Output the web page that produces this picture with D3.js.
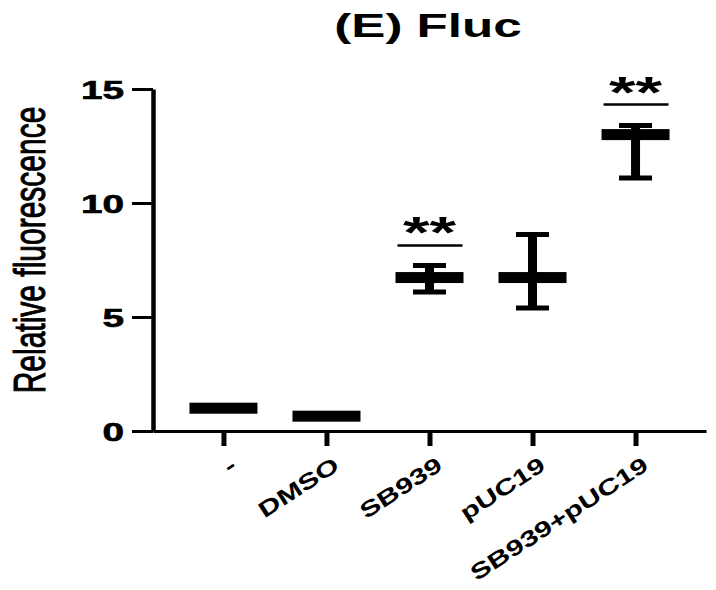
<!DOCTYPE html>
<html>
<head>
<meta charset="utf-8">
<script src="https://cdn.jsdelivr.net/npm/d3@7"></script>
<style>
  body { margin: 0; background: #fff; }
  text { font-family: "Liberation Sans", Arial, sans-serif; fill: #000; }
</style>
</head>
<body>
<svg id="chart" width="716" height="590"></svg>
<script>
// data
const categories = ["-", "DMSO", "SB939", "pUC19", "SB939+pUC19"];
const means = [1.0, 0.65, 6.73, 6.73, 13.0];
const upper = [1.0, 0.65, 7.26, 8.62, 13.4];
const lower = [1.0, 0.65, 6.1, 5.4, 11.1];
const yTicks = [0, 5, 10, 15];
const sigCategories = ["SB939", "SB939+pUC19"];
const sigLevels = [8.14, 14.32];
const sigLabels = ["**", "**"];

const SX = 1.55; // the figure is stretched sideways, text too

const svg = d3.select("#chart");

const x = d3.scalePoint()
  .domain(categories)
  .range([153, 706])
  .padding(0.684);

const y = d3.scaleLinear()
  .domain([0, 15])
  .range([431, 89]);

// title
svg.append("g")
    .attr("transform", `translate(428,37) scale(${SX},1)`)
  .append("text")
    .attr("text-anchor", "middle")
    .style("font-size", "33px")
    .style("font-weight", "bold")
    .text("(E) Fluc");

// y axis
const yAxis = svg.append("g")
    .attr("transform", "translate(153,0)")
    .call(d3.axisLeft(y).tickValues(yTicks).tickSize(21).tickSizeOuter(0));
yAxis.select(".domain").attr("stroke-width", 4.5);
yAxis.selectAll(".tick line").attr("stroke-width", 3);
yAxis.selectAll(".tick text")
    .attr("transform", `scale(${SX},1)`)
    .attr("x", -29 / SX)
    .attr("dy", "0.36em")
    .style("font-size", "25px")
    .style("font-weight", "bold")
    .attr("stroke", "#000")
    .attr("stroke-width", 0.6);

// x axis
const xAxis = svg.append("g")
    .attr("transform", "translate(0,431)")
    .call(d3.axisBottom(x).tickSize(15).tickSizeOuter(0));
xAxis.select(".domain").attr("stroke-width", 3);
xAxis.selectAll(".tick line").attr("stroke-width", 5);
xAxis.selectAll(".tick text").remove();

svg.selectAll(".xlab")
  .data(categories)
  .enter().append("g")
    .attr("class", "xlab")
    .attr("transform", d => `translate(${x(d) + 6},456) rotate(-33) scale(1.38,1)`)
  .append("text")
    .attr("text-anchor", "end")
    .attr("dy", "0.7em")
    .style("font-size", "22px")
    .style("font-weight", "bold")
    .text(d => d);

// y label
svg.append("g")
    .attr("transform", `translate(29,250) scale(1.46,1) rotate(-90)`)
  .append("text")
    .attr("text-anchor", "middle")
    .attr("dy", "0.36em")
    .style("font-size", "30px")
    .attr("stroke", "#000")
    .attr("stroke-width", 0.7)
    .text("Relative fluorescence");

// error bars + mean lines
const groups = svg.selectAll(".grp")
  .data(categories)
  .enter().append("g")
    .attr("class", "grp");

groups.append("line")
    .attr("x1", d => x(d)).attr("x2", d => x(d))
    .attr("y1", (d, i) => y(lower[i]))
    .attr("y2", (d, i) => y(upper[i]))
    .attr("stroke", "#000")
    .attr("stroke-width", 9);

groups.selectAll(".cap")
  .data((d, i) => [upper[i], lower[i]].map(v => ({ c: d, v })))
  .enter().append("line")
    .attr("class", "cap")
    .attr("x1", d => x(d.c) - 16.5).attr("x2", d => x(d.c) + 16.5)
    .attr("y1", d => y(d.v)).attr("y2", d => y(d.v))
    .attr("stroke", "#000")
    .attr("stroke-width", 5);

groups.append("rect")
    .attr("x", d => x(d) - 34)
    .attr("y", (d, i) => y(means[i]) - 5.5)
    .attr("width", 68)
    .attr("height", 11)
    .attr("fill", "#000");

// significance marks
sigCategories.forEach((c, i) => {
  svg.append("line")
      .attr("x1", x(c) - 32).attr("x2", x(c) + 33)
      .attr("y1", y(sigLevels[i])).attr("y2", y(sigLevels[i]))
      .attr("stroke", "#000")
      .attr("stroke-width", 2.5);
  svg.append("g")
      .attr("transform", `translate(${x(c)},${y(sigLevels[i]) + 3}) scale(${SX},1)`)
    .append("text")
      .attr("text-anchor", "middle")
      .style("font-size", "44px")
      .style("font-weight", "bold")
      .text(sigLabels[i]);
});
</script>
</body>
</html>
